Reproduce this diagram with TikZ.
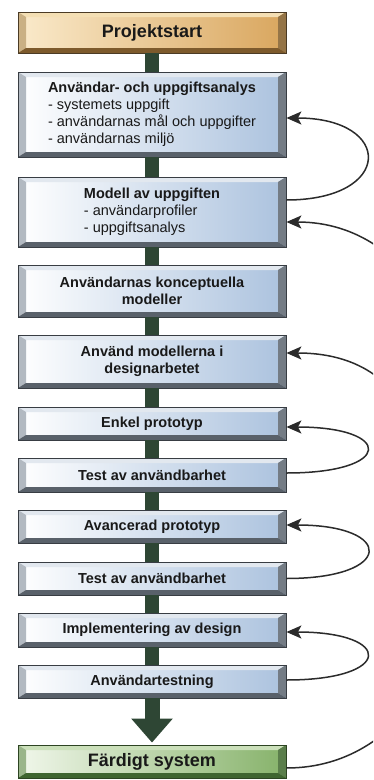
\documentclass[tikz,border=0pt]{standalone}
\usepackage{fontspec}
\setmainfont{Liberation Sans}
\usetikzlibrary{arrows.meta,positioning}

\definecolor{rimblue}{HTML}{383D43}
\definecolor{faceblue}{HTML}{ABC2DE}
\definecolor{litblue}{HTML}{E2E8EF}
\definecolor{darkblue}{HTML}{59616A}
\definecolor{rimtan}{HTML}{4B3B25}
\definecolor{facetan}{HTML}{D9A65E}
\definecolor{paletan}{HTML}{FAEACB}
\definecolor{littan}{HTML}{F4DFB4}
\definecolor{darktan}{HTML}{7D5A2C}
\definecolor{rimgreen}{HTML}{2D4422}
\definecolor{facegreen}{HTML}{86B26A}
\definecolor{palegreen}{HTML}{F1F7EB}
\definecolor{litgreen}{HTML}{CBE0BA}
\definecolor{darkgreen}{HTML}{3F6530}
\definecolor{bargreen}{HTML}{2E4634}
\definecolor{loopgray}{HTML}{2B2B2B}

\newcommand{\ppb}{path picture bounding box}

\tikzset{
  bevel/.style n args={5}{draw=#1, line width=0.8pt, left color=#5, right color=#2,
    minimum width=268pt, inner sep=0pt, align=center, text=black!90,
    font=\fontsize{14.5}{17}\selectfont\bfseries,
    path picture={
      \fill[#3] (\ppb.north west) -- (\ppb.north east)
        -- ([xshift=-8pt,yshift=-5pt]\ppb.north east) -- ([xshift=8pt,yshift=-5pt]\ppb.north west) -- cycle;
      \fill[#3!65!#4] (\ppb.north west) -- ([xshift=8pt,yshift=-5pt]\ppb.north west)
        -- ([xshift=8pt,yshift=5pt]\ppb.south west) -- (\ppb.south west) -- cycle;
      \fill[#4!80!#3] (\ppb.north east) -- ([xshift=-8pt,yshift=-5pt]\ppb.north east)
        -- ([xshift=-8pt,yshift=5pt]\ppb.south east) -- (\ppb.south east) -- cycle;
      \fill[#4] (\ppb.south west) -- ([xshift=8pt,yshift=5pt]\ppb.south west)
        -- ([xshift=-8pt,yshift=5pt]\ppb.south east) -- (\ppb.south east) -- cycle;
    }},
  stagebox/.style={bevel={rimblue}{faceblue}{litblue}{darkblue}{white}},
  startbox/.style={bevel={rimtan}{facetan}{littan}{darktan}{paletan}, font=\fontsize{18}{20}\selectfont\bfseries},
  endbox/.style={bevel={rimgreen}{facegreen}{litgreen}{darkgreen}{palegreen}, font=\fontsize{18}{20}\selectfont\bfseries},
  link/.style={line width=14pt, draw=bargreen},
  bigarrow/.style={line width=15pt, draw=bargreen, shorten >=2pt, -{Triangle[length=24pt,width=40pt]}},
  back/.style={-{Stealth[length=15pt,width=13pt,inset=3.5pt]}, line width=1.5pt, draw=loopgray},
}

\begin{document}
\begin{tikzpicture}[x=1pt,y=-1pt]
\useasboundingbox (0,0) rectangle (373,780);
\clip (0,0) rectangle (373,780);

\node[startbox, minimum height=41pt] (start) at (152,32.5) {Projektstart};
\node[stagebox, minimum height=85pt, align=left] (analys) at (152,114.5)
  {Användar- och uppgiftsanalys\\\textmd{- systemets uppgift}\\\textmd{- användarnas mål och uppgifter}\\\textmd{- användarnas miljö}};
\node[stagebox, minimum height=70pt, align=left] (modell) at (152,212)
  {Modell av uppgiften\\\textmd{- användarprofiler}\\\textmd{- uppgiftsanalys}};
\node[stagebox, minimum height=52pt] (koncept) at (152,291) {Användarnas konceptuella\\modeller};
\node[stagebox, minimum height=53pt] (anvand) at (152,361.5) {Använd modellerna i\\designarbetet};
\node[stagebox, minimum height=33pt] (enkel) at (152,423.5) {Enkel prototyp};
\node[stagebox, minimum height=34pt] (test1) at (152,475) {Test av användbarhet};
\node[stagebox, minimum height=33pt] (avancerad) at (152,526.5) {Avancerad prototyp};
\node[stagebox, minimum height=33pt] (test2) at (152,578.5) {Test av användbarhet};
\node[stagebox, minimum height=34pt] (impl) at (152,630) {Implementering av design};
\node[stagebox, minimum height=33pt] (anvtest) at (152,681.5) {Användartestning};
\node[endbox, minimum height=33pt] (klart) at (152,761.5) {Färdigt system};

% flow down the middle
\foreach \a/\b in {start/analys, analys/modell, modell/koncept, koncept/anvand,
                   anvand/enkel, enkel/test1, test1/avancerad, avancerad/test2,
                   test2/impl, impl/anvtest}
  \draw[link] (\a.south) -- (\b.north);
\draw[bigarrow] (anvtest.south) -- (klart.north);

% feedback loops
\coordinate (loopjoin) at (445,650);
\draw[back] ([yshift=12pt]modell.east) to[out=0, in=0, looseness=3.36] ([yshift=-3.5pt]analys.east);
\draw[back] ([yshift=-6.5pt]klart.east) .. controls +(250,0) and +(250,0) .. ([yshift=-10pt]modell.east);
\draw[back] (loopjoin) .. controls +(0,-150) and +(150,0) .. ([yshift=8.5pt]anvand.east);
\draw[back] ([yshift=2pt]test1.east) to[out=0, in=0, looseness=6] ([yshift=-3.5pt]enkel.east);
\draw[back] (test2.east) to[out=0, in=0, looseness=5.2] ([yshift=1.5pt]avancerad.east);
\draw[back] ([yshift=1.5pt]anvtest.east) to[out=0, in=0, looseness=5.75] ([yshift=-2pt]impl.east);

\end{tikzpicture}
\end{document}
